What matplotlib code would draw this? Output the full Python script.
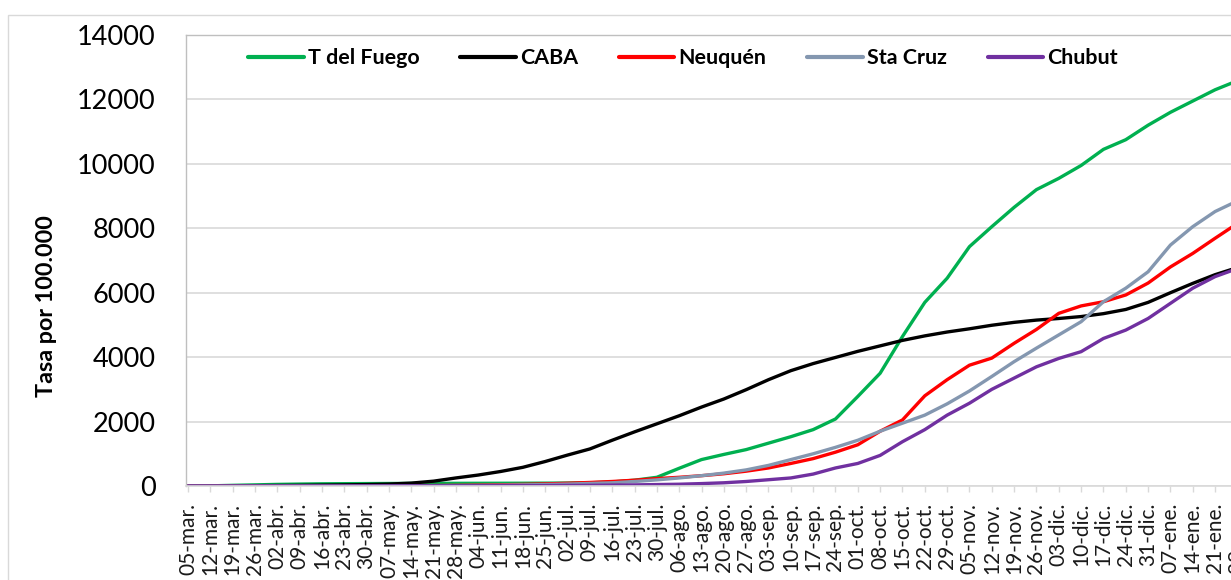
import numpy as np
import matplotlib
matplotlib.use("Agg")
import matplotlib.pyplot as plt
from matplotlib.patches import Rectangle

# ---------------- data ----------------
week_labels = ["05-mar.", "12-mar.", "19-mar.", "26-mar.", "02-abr.", "09-abr.", "16-abr.", "23-abr.",
               "30-abr.", "07-may.", "14-may.", "21-may.", "28-may.", "04-jun.", "11-jun.", "18-jun.",
               "25-jun.", "02-jul.", "09-jul.", "16-jul.", "23-jul.", "30-jul.", "06-ago.", "13-ago.",
               "20-ago.", "27-ago.", "03-sep.", "10-sep.", "17-sep.", "24-sep.", "01-oct.", "08-oct.",
               "15-oct.", "22-oct.", "29-oct.", "05-nov.", "12-nov.", "19-nov.", "26-nov.", "03-dic.",
               "10-dic.", "17-dic.", "24-dic.", "31-dic.", "07-ene.", "14-ene.", "21-ene.", "28-ene."]
day_offset = [7 * i for i in range(len(week_labels))]   # days since 05-mar

t_del_fuego = [0, 5, 20, 35, 50, 60, 68, 72, 75, 78, 80, 82, 83, 84, 85, 86,
               88, 92, 100, 125, 180, 270, 550, 820, 980, 1130, 1330, 1530, 1750, 2080, 2780, 3500,
               4640, 5700, 6450, 7430, 8050, 8650, 9200, 9550, 9950, 10450, 10750, 11200, 11600, 11950,
               12300, 12580]
caba = [0, 2, 5, 10, 15, 20, 28, 35, 45, 60, 90, 150, 250, 340, 450, 580,
        760, 960, 1150, 1420, 1680, 1930, 2180, 2450, 2700, 2990, 3300, 3580, 3800, 3990, 4180, 4350,
        4520, 4660, 4780, 4880, 4990, 5080, 5150, 5200, 5260, 5350, 5480, 5700, 6000, 6290,
        6560, 6780]
neuquen = [0, 0, 0, 1, 2, 3, 4, 5, 5, 7, 10, 14, 20, 28, 38, 50,
           65, 85, 110, 140, 180, 230, 270, 320, 380, 460, 560, 700, 850, 1050, 1280, 1700,
           2050, 2800, 3300, 3750, 3970, 4430, 4860, 5360, 5590, 5720, 5930, 6300, 6800, 7220,
           7690, 8150]
sta_cruz = [0, 0, 0, 1, 2, 3, 4, 5, 6, 7, 9, 11, 14, 18, 25, 35,
            45, 60, 80, 100, 140, 190, 250, 320, 400, 500, 640, 820, 1000, 1200, 1420, 1700,
            1950, 2200, 2550, 2950, 3400, 3860, 4280, 4690, 5100, 5720, 6140, 6650, 7480, 8050,
            8520, 8850]
chubut = [0, 0, 0, 0, 1, 1, 2, 2, 3, 3, 4, 5, 6, 7, 9, 11,
          14, 18, 22, 28, 35, 45, 55, 75, 100, 140, 195, 250, 370, 560, 700, 950,
          1375, 1750, 2200, 2570, 3000, 3350, 3700, 3960, 4170, 4580, 4840, 5200, 5670, 6140,
          6500, 6750]

series_names = ["T del Fuego", "CABA", "Neuquén", "Sta Cruz", "Chubut"]
series_values = [t_del_fuego, caba, neuquen, sta_cruz, chubut]
series_colors = ["#00B050", "#000000", "#FF0000", "#8497B0", "#7030A0"]

y_ticks = [0, 2000, 4000, 6000, 8000, 10000, 12000, 14000]

# ---------------- figure ----------------
plt.rcParams['font.family'] = ['Lato', 'DejaVu Sans']
W, H = 1231, 580
fig = plt.figure(figsize=(W / 100, H / 100), dpi=100)

# outer chart frame
fig.patches.append(Rectangle((8 / W, -0.2), 1.5, (H - 15) / H + 0.2, transform=fig.transFigure,
                             fill=False, edgecolor="#D9D9D9", linewidth=1.0, zorder=0))

px_per_day = 3.19
x0 = -0.6
x1 = 333.0
ax_left = 186
ax_w = (x1 - x0) * px_per_day
ax = fig.add_axes([ax_left / W, 94 / H, ax_w / W, 451 / H])

for name, vals, col in zip(series_names, series_values, series_colors):
    ax.plot(day_offset, vals, color=col, linewidth=2.4, label=name, solid_capstyle='round')

ax.set_xlim(x0, x1)
ax.set_ylim(0, 14000)
ax.set_yticks(y_ticks)
ax.set_yticklabels([str(v) for v in y_ticks], fontsize=19.5, color="#000000")
ax.tick_params(axis='y', length=0, pad=22)

ax.set_xticks(day_offset)
ax.set_xticklabels(week_labels, rotation=90, fontsize=15.0, color="#1a1a1a")
ax.tick_params(axis='x', length=4, width=1, color="#D9D9D9", pad=8)

ax.grid(axis='y', color="#D9D9D9", linewidth=1.2)
ax.set_axisbelow(True)
for s in ["left", "top"]:
    ax.spines[s].set_color("#BFBFBF")
    ax.spines[s].set_linewidth(1.0)
ax.spines["bottom"].set_color("#D9D9D9")
ax.spines["bottom"].set_linewidth(1.2)
ax.spines["right"].set_visible(False)

ax.set_ylabel("Tasa por 100.000", fontsize=16.8, fontweight="bold")
ax.yaxis.set_label_coords(-0.121, 0.40)

leg = ax.legend(ncol=5, loc="center left",
                bbox_to_anchor=((248 - ax_left) / ax_w, (486 - 58) / 451),
                frameon=False, borderpad=0, borderaxespad=0,
                handlelength=2.6, handletextpad=0.2, columnspacing=1.9,
                prop={"weight": "bold", "size": 15.4})
for h in leg.legend_handles:
    h.set_linewidth(3.0)

fig.savefig("out.png", dpi=100)
